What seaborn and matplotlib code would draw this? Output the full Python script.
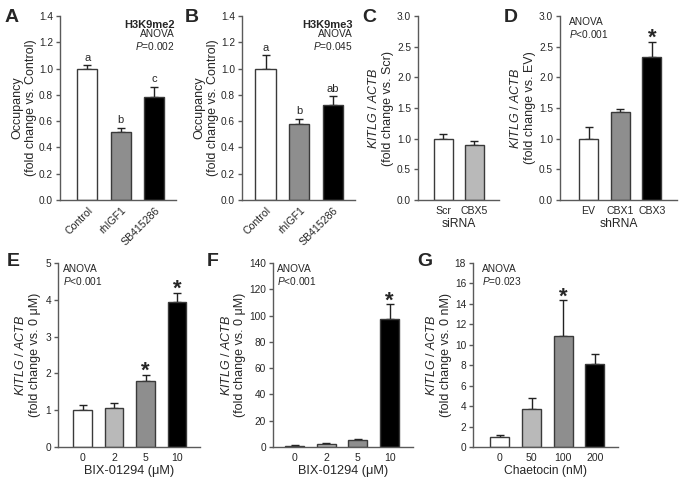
import numpy as np
import matplotlib.pyplot as plt
import seaborn as sns

sns.set_style("ticks")
plt.rcParams['font.family'] = ['Liberation Sans', 'DejaVu Sans']
plt.rcParams['mathtext.fontset'] = 'custom'
plt.rcParams['mathtext.it'] = 'Liberation Sans:italic'
plt.rcParams['mathtext.rm'] = 'Liberation Sans'

# ---- data ----
a_groups = ["Control", "rhIGF1", "SB415286"]
a_mean = [1.0, 0.52, 0.78]
a_err = [0.025, 0.03, 0.08]
a_letters = ["a", "b", "c"]

b_groups = ["Control", "rhIGF1", "SB415286"]
b_mean = [1.0, 0.58, 0.72]
b_err = [0.10, 0.04, 0.07]
b_letters = ["a", "b", "ab"]

c_groups = ["Scr", "CBX5"]
c_mean = [1.0, 0.90]
c_err = [0.08, 0.07]

d_groups = ["EV", "CBX1", "CBX3"]
d_mean = [1.0, 1.43, 2.33]
d_err = [0.19, 0.05, 0.25]

e_groups = ["0", "2", "5", "10"]
e_mean = [1.0, 1.07, 1.80, 3.93]
e_err = [0.13, 0.13, 0.16, 0.25]

f_groups = ["0", "2", "5", "10"]
f_mean = [1.0, 2.2, 5.0, 97.5]
f_err = [0.3, 0.8, 1.0, 11.0]

g_groups = ["0", "50", "100", "200"]
g_mean = [1.0, 3.7, 10.9, 8.1]
g_err = [0.15, 1.05, 3.45, 1.0]

WHITE, LIGHT, MID, BLACK = "#ffffff", "#b9b9b9", "#8e8e8e", "#000000"
EDGE = "#3a3a3a"
SPINE = "#5a5a5a"
TICK_FS = 7.3
YLAB_FS = 9
XLAB_FS = 8.7

W, H = 683, 487
fig = plt.figure(figsize=(W / 100, H / 100), dpi=100)


def make_ax(left, right, top, bottom):
    return fig.add_axes([left / W, 1 - bottom / H, (right - left) / W, (bottom - top) / H])


def bars(ax, cats, means, errs, colors, xlim, ylim, yticks):
    sns.barplot(x=cats, y=means, hue=cats, palette=colors, legend=False,
                width=0.6, edgecolor=EDGE, linewidth=1, ax=ax, zorder=2)
    ax.errorbar(np.arange(len(cats)), means, yerr=[np.zeros(len(errs)), errs],
                fmt="none", ecolor="#222222", elinewidth=1, capsize=3, capthick=1, zorder=1)
    ax.set_xlim(xlim)
    ax.set_ylim(ylim)
    ax.set_yticks(yticks)
    sns.despine(ax=ax)
    for s in ("left", "bottom"):
        ax.spines[s].set_color(SPINE)
        ax.spines[s].set_linewidth(1)
    ax.tick_params(axis="y", length=3, width=1, color=SPINE, labelsize=TICK_FS, pad=2)
    ax.tick_params(axis="x", length=0, labelsize=TICK_FS + 0.3, pad=4)
    ax.set_xlabel("")


def stars(ax, idx, means, errs, dy):
    for i in idx:
        ax.text(i, means[i] + errs[i] + dy, "*", ha="center", va="baseline",
                fontsize=16, fontweight="bold")


def letters(ax, labs, means, errs, dy):
    for i, l in enumerate(labs):
        ax.text(i, means[i] + errs[i] + dy, l, ha="center", va="bottom", fontsize=8)


def anova(ax, x, p, ha="left", title=None):
    y = 0.965
    if title:
        ax.text(x, 0.95, title, transform=ax.transAxes, ha=ha, va="center",
                fontsize=8, fontweight="bold")
        y = 0.90
    ax.text(x, y, "ANOVA", transform=ax.transAxes, ha=ha, va="center", fontsize=7.3)
    ax.text(x, y - 0.063, p, transform=ax.transAxes, ha=ha, va="center", fontsize=7.3)


kitlg = r"$\it{KITLG}$ / $\it{ACTB}$" + "\n"

# A
axA = make_ax(60, 176, 16, 200)
bars(axA, a_groups, a_mean, a_err, [WHITE, MID, BLACK], (-0.82, 2.65), (0, 1.4),
     np.arange(0, 1.41, 0.2))
axA.set_ylabel("Occupancy\n(fold change vs. Control)", fontsize=YLAB_FS, labelpad=1.5)
plt.setp(axA.get_xticklabels(), rotation=45, ha="right", rotation_mode="anchor")
letters(axA, a_letters, a_mean, a_err, 0.02)
anova(axA, 0.99, r"$\it{P}$=0.002", ha="right", title="H3K9me2")

# B
axB = make_ax(242, 355, 16, 200)
bars(axB, b_groups, b_mean, b_err, [WHITE, MID, BLACK], (-0.70, 2.65), (0, 1.4),
     np.arange(0, 1.41, 0.2))
axB.set_ylabel("Occupancy\n(fold change vs. Control)", fontsize=YLAB_FS, labelpad=1.5)
plt.setp(axB.get_xticklabels(), rotation=45, ha="right", rotation_mode="anchor")
letters(axB, b_letters, b_mean, b_err, 0.02)
anova(axB, 0.98, r"$\it{P}$=0.045", ha="right", title="H3K9me3")

# C
axC = make_ax(418, 499, 16, 200)
bars(axC, c_groups, c_mean, c_err, [WHITE, LIGHT], (-0.82, 1.79), (0, 3.0),
     np.arange(0, 3.01, 0.5))
axC.set_ylabel(kitlg + "(fold change vs. Scr)", fontsize=YLAB_FS, labelpad=2)
axC.set_xlabel("siRNA", fontsize=XLAB_FS, labelpad=2)

# D
axD = make_ax(560, 677, 16, 200)
bars(axD, d_groups, d_mean, d_err, [WHITE, MID, BLACK], (-0.9, 2.79), (0, 3.0),
     np.arange(0, 3.01, 0.5))
axD.set_ylabel(kitlg + "(fold change vs. EV)", fontsize=YLAB_FS, labelpad=2)
axD.set_xlabel("shRNA", fontsize=XLAB_FS, labelpad=2)
stars(axD, [2], d_mean, d_err, -0.03)
anova(axD, 0.08, r"$\it{P}$<0.001")

# E
axE = make_ax(58, 200, 263, 447)
bars(axE, e_groups, e_mean, e_err, [WHITE, LIGHT, MID, BLACK], (-0.78, 3.73), (0, 5),
     np.arange(0, 6, 1))
axE.set_ylabel(kitlg + "(fold change vs. 0 μM)", fontsize=YLAB_FS, labelpad=3)
axE.set_xlabel("BIX-01294 (μM)", fontsize=XLAB_FS + 0.5, labelpad=2)
stars(axE, [2, 3], e_mean, e_err, -0.05)
anova(axE, 0.035, r"$\it{P}$<0.001")

# F
axF = make_ax(273, 413, 263, 447)
bars(axF, f_groups, f_mean, f_err, [WHITE, LIGHT, MID, BLACK], (-0.68, 3.74), (0, 140),
     np.arange(0, 141, 20))
axF.set_ylabel(kitlg + "(fold change vs. 0 μM)", fontsize=YLAB_FS, labelpad=2)
axF.set_xlabel("BIX-01294 (μM)", fontsize=XLAB_FS + 0.5, labelpad=2)
stars(axF, [3], f_mean, f_err, -1.5)
anova(axF, 0.03, r"$\it{P}$<0.001")

# G
axG = make_ax(473, 618, 263, 447)
bars(axG, g_groups, g_mean, g_err, [WHITE, LIGHT, MID, BLACK], (-0.85, 3.73), (0, 18),
     np.arange(0, 19, 2))
axG.set_ylabel(kitlg + "(fold change vs. 0 nM)", fontsize=YLAB_FS, labelpad=2)
axG.set_xlabel("Chaetocin (nM)", fontsize=XLAB_FS, labelpad=2)
stars(axG, [2], g_mean, g_err, -0.2)
anova(axG, 0.06, r"$\it{P}$=0.023")

# panel letters
for lab, px, py in [("A", 12, 18), ("B", 192, 18), ("C", 369, 18), ("D", 511, 18),
                    ("E", 13, 262), ("F", 213, 262), ("G", 425, 262)]:
    fig.text(px / W, 1 - py / H, lab, fontsize=14, fontweight="bold", ha="center", va="center")

fig.savefig("out.png", dpi=100)
